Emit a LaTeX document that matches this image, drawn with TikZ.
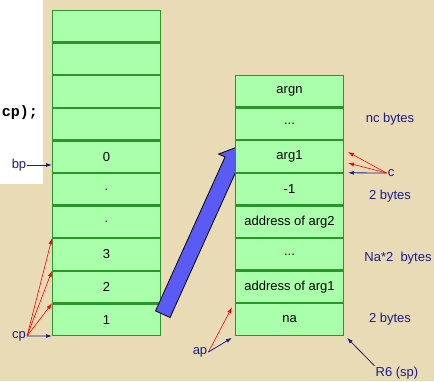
\documentclass[tikz,border=0pt]{standalone}
\usepackage{fontspec}
\setmainfont{Liberation Sans}
\setmonofont{Liberation Mono}
\usetikzlibrary{positioning,calc,arrows.meta,shapes.arrows}
\definecolor{parchment}{RGB}{233,219,181}
\definecolor{cellgreen}{RGB}{170,255,170}
\definecolor{celledge}{RGB}{40,150,40}
\definecolor{labelblue}{RGB}{28,28,140}
\definecolor{bigblue}{RGB}{90,90,245}

\begin{document}
\begin{tikzpicture}[
        x=1pt, y=-1pt,
        cell/.style={rectangle, draw=celledge, line width=1.2pt, fill=cellgreen, minimum width=107.8pt, minimum height=31.4pt, inner sep=0pt, font=\fontsize{13}{15}\selectfont},
        tag/.style={text=labelblue, inner sep=1pt, font=\fontsize{13}{15}\selectfont},
        ptr/.style={-{Latex[length=6pt,width=4pt]}, draw=labelblue, line width=0.8pt},
        redptr/.style={-{Latex[length=6pt,width=4pt]}, draw=red, line width=0.6pt},
        bigarrow/.style={single arrow, draw=black, fill=bigblue, line width=0.8pt, minimum height=184pt, single arrow head extend=7pt, inner sep=7.6pt}
        ]

        % Page and background
        \useasboundingbox (0,0) rectangle (434,381);
        \fill[parchment] (0,0) rectangle (434,381);
        \fill[white] (0,0) rectangle (43,184);
        \node[anchor=east, inner sep=0pt, font=\ttfamily\bfseries\fontsize{15}{17}\selectfont] (code) at (38,113) {cp);};

        % Caller frame (left stack)
        \node[cell] (f1) at (106.5, 26.3) {};
        \node[cell, below=0pt of f1] (f2) {};
        \node[cell, below=0pt of f2] (f3) {};
        \node[cell, below=0pt of f3] (f4) {};
        \node[cell, below=0pt of f4] (f5) {0};
        \node[cell, below=0pt of f5] (f6) {.};
        \node[cell, below=0pt of f6] (f7) {.};
        \node[cell, below=0pt of f7] (f8) {3};
        \node[cell, below=0pt of f8] (f9) {2};
        \node[cell, below=0pt of f9] (f10) {1};

        % Big arrow between the stacks (drawn behind the right stack)
        \node[bigarrow, rotate=65.7] (jump) at (199,234) {};

        % Argument block (right stack)
        \node[cell] (a1) at (289.5, 91.3) {argn};
        \node[cell, below=0pt of a1] (a2) {...};
        \node[cell, below=0pt of a2] (a3) {arg1};
        \node[cell, below=0pt of a3] (a4) {-1};
        \node[cell, below=0pt of a4] (a5) {address of arg2};
        \node[cell, below=0pt of a5] (a6) {...};
        \node[cell, below=0pt of a6] (a7) {address of arg1};
        \node[cell, below=0pt of a7] (a8) {na};

        % Labels
        \node[tag] (bp) at (19,165) {bp};
        \node[tag] (cp) at (19,336) {cp};
        \node[tag] (ap) at (200,352) {ap};
        \node[tag] (c) at (391,173) {c};
        \node[tag] (nc) at (390,119) {nc bytes};
        \node[tag] (two1) at (390,196) {2 bytes};
        \node[tag] (naby) at (398,258) {Na*2~ bytes};
        \node[tag] (two2) at (390,319) {2 bytes};
        \node[tag] (sp) at (397,373) {R6 (sp)};

        % Pointers
        \draw[ptr] (bp) -- (bp -| f5.west);
        \draw[ptr] (cp) -- (f10.south west);
        \draw[redptr] (cp.east) -- (f10.north west);
        \draw[redptr] (cp.east) -- (f9.north west);
        \draw[redptr] (cp.east) -- (f8.north west);
        \draw[redptr] (ap.east) -- ($(a8.north west)+(-3,4)$);
        \draw[ptr] (ap.east) -- ($(a8.south west)+(-3,2)$);
        \draw[ptr] (c.west) -- ($(a3.south east)+(4,0)$);
        \draw[redptr] (c.west) -- ($(a3.east)+(4,-4.5)$);
        \draw[redptr] (c.west) -- ($(a3.east)+(4,6.5)$);
        \draw[ptr] (sp.north west) -- ($(a8.south east)+(3,2)$);

    \end{tikzpicture}
\end{document}
